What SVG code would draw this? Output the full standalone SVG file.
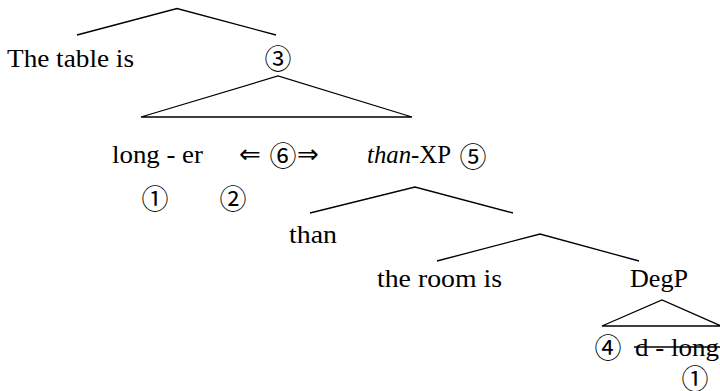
<svg xmlns="http://www.w3.org/2000/svg" width="720" height="391" viewBox="0 0 720 391">
<style>
.t{font-family:"Liberation Serif","Noto Serif",serif;font-size:25px;fill:#000}
.it{font-style:italic}
.c{font-family:"Noto Sans CJK JP","DejaVu Sans",sans-serif;font-size:27px;fill:#000;text-anchor:middle;dominant-baseline:central}
.a{font-family:"DejaVu Sans",sans-serif;font-size:26px;fill:#000;text-anchor:middle}
.ln{fill:none;stroke:#000;stroke-width:1.3;stroke-linejoin:miter}
</style>
<rect width="720" height="391" fill="#fff"/>
<g id="connectors">
<polyline class="ln" points="77,35 177,8.5 276,35"/>
<polygon class="ln" points="141,117 278,76 412,117"/>
<polyline class="ln" points="310,213 415,187 513,213"/>
<polyline class="ln" points="437,261 540,234 639,261"/>
<polygon class="ln" points="602,326 662,300 721,326"/>
</g>
<g id="n-table"><text class="t" x="7" y="67" textLength="127" lengthAdjust="spacingAndGlyphs">The table is</text></g>
<g id="n-3"><text class="c" x="278" y="57">③</text></g>
<g id="n-longer"><text class="t" x="112" y="163" textLength="91" lengthAdjust="spacingAndGlyphs">long - er</text></g>
<g id="n-c1"><text class="c" x="155" y="197">①</text></g>
<g id="n-c2"><text class="c" x="233" y="197">②</text></g>
<g id="n-6"><text class="a" y="163"><tspan x="250">⇐</tspan></text><text class="c" x="283" y="154">⑥</text><text class="a" y="163"><tspan x="308">⇒</tspan></text></g>
<g id="n-thanxp"><text class="t" x="367" y="163" textLength="84" lengthAdjust="spacingAndGlyphs"><tspan class="it">than</tspan>-XP</text><text class="c" x="473" y="155">⑤</text></g>
<g id="n-than"><text class="t" x="289" y="243" textLength="48" lengthAdjust="spacingAndGlyphs">than</text></g>
<g id="n-room"><text class="t" x="377" y="287" textLength="125" lengthAdjust="spacingAndGlyphs">the room is</text></g>
<g id="n-degp"><text class="t" x="630" y="287" textLength="58" lengthAdjust="spacingAndGlyphs">DegP</text></g>
<g id="n-dlong">
<text class="c" x="608" y="346">④</text>
<text class="t" x="635" y="356" textLength="84" lengthAdjust="spacingAndGlyphs">d - long</text>
<line x1="634" y1="347" x2="720" y2="347" stroke="#000" stroke-width="1.3"/>
<text class="c" x="695" y="377">①</text>
</g>
</svg>
